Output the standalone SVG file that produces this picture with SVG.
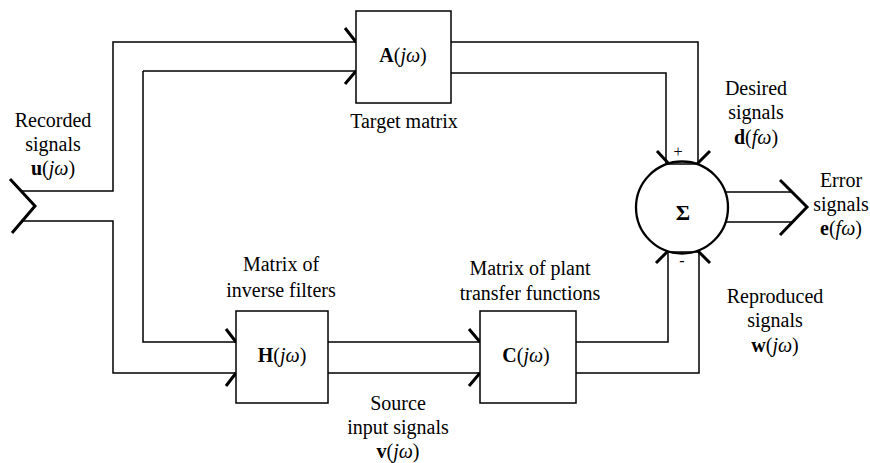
<svg xmlns="http://www.w3.org/2000/svg" width="870" height="463" viewBox="0 0 870 463">
<style>
.ln{fill:none;stroke:#000;stroke-width:1.5}
.bx{fill:#fff;stroke:#000;stroke-width:1.5}
.bb{fill:none;stroke:#000;stroke-width:3;stroke-linecap:butt}
text{font-family:"Liberation Serif","Times New Roman",serif;font-size:20px;fill:#000;text-anchor:middle}
.b{font-weight:bold}
.i{font-style:italic}
</style>
<rect width="870" height="463" fill="#fff"/>
<g id="connectors">
<path class="ln" d="M22,191 H113 V42 H356"/>
<path class="ln" d="M22,221 H113 V373 H236"/>
<path class="ln" d="M143,71 V342 H236"/>
<path class="ln" d="M143,71 H356"/>
<path class="ln" d="M328,342 H480 M328,373 H480"/>
<path class="ln" d="M576,342 H668 V252 M576,373 H699 V252"/>
<path class="ln" d="M451,42 H698 V164 M451,73 H666 V164"/>
<path class="ln" d="M666,164 H698 M668,252 H699"/>
<path class="ln" d="M726,192 H791 M726,222 H792"/>
<polyline class="bb" points="10,179 35,206 12,233"/>
<polyline class="bb" points="780,180 807,207 780,235"/>
<path class="bb" d="M345,28 L356,42 M345,84 L356,71"/>
<path class="bb" d="M226,329 L236,342 M226,386 L236,373"/>
<path class="bb" d="M469,329 L480,342 M469,386 L480,373"/>
<path class="bb" d="M657,151 L669,164 M710,151 L697,164"/>
<path class="bb" d="M656,263 L668,251 M710,263 L698,251"/>
</g>
<g id="A">
<rect class="bx" x="356" y="11" width="95" height="92"/>
<text x="403" y="62"><tspan class="b">A</tspan>(<tspan class="i">jω</tspan>)</text>
<text x="404" y="128">Target matrix</text>
</g>
<g id="H">
<rect class="bx" x="236" y="311" width="92" height="92"/>
<text x="282" y="362"><tspan class="b">H</tspan>(<tspan class="i">jω</tspan>)</text>
<text x="281" y="271">Matrix of</text>
<text x="281" y="297">inverse filters</text>
</g>
<g id="C">
<rect class="bx" x="480" y="311" width="96" height="92"/>
<text x="526" y="362"><tspan class="b">C</tspan>(<tspan class="i">jω</tspan>)</text>
<text x="530" y="275">Matrix of plant</text>
<text x="530" y="300">transfer functions</text>
</g>
<g id="sum">
<circle cx="682" cy="207.5" r="46" fill="none" stroke="#000" stroke-width="2.3"/>
<text x="683" y="220" class="b" style="font-size:22px">Σ</text>
<text x="678" y="157" style="font-size:16px">+</text>
<text x="682" y="266" style="font-size:16px">-</text>
</g>
<g id="labels">
<text x="53" y="127">Recorded</text>
<text x="53" y="151">signals</text>
<text x="53" y="175"><tspan class="b">u</tspan>(<tspan class="i">jω</tspan>)</text>
<text x="756" y="95">Desired</text>
<text x="756" y="119">signals</text>
<text x="756" y="144"><tspan class="b">d</tspan>(<tspan class="i">fω</tspan>)</text>
<text x="841" y="187">Error</text>
<text x="841" y="211">signals</text>
<text x="841" y="235"><tspan class="b">e</tspan>(<tspan class="i">fω</tspan>)</text>
<text x="775" y="303">Reproduced</text>
<text x="775" y="327">signals</text>
<text x="775" y="352"><tspan class="b">w</tspan>(<tspan class="i">jω</tspan>)</text>
<text x="398" y="410">Source</text>
<text x="398" y="434">input signals</text>
<text x="398" y="458"><tspan class="b">v</tspan>(<tspan class="i">jω</tspan>)</text>
</g>
</svg>
